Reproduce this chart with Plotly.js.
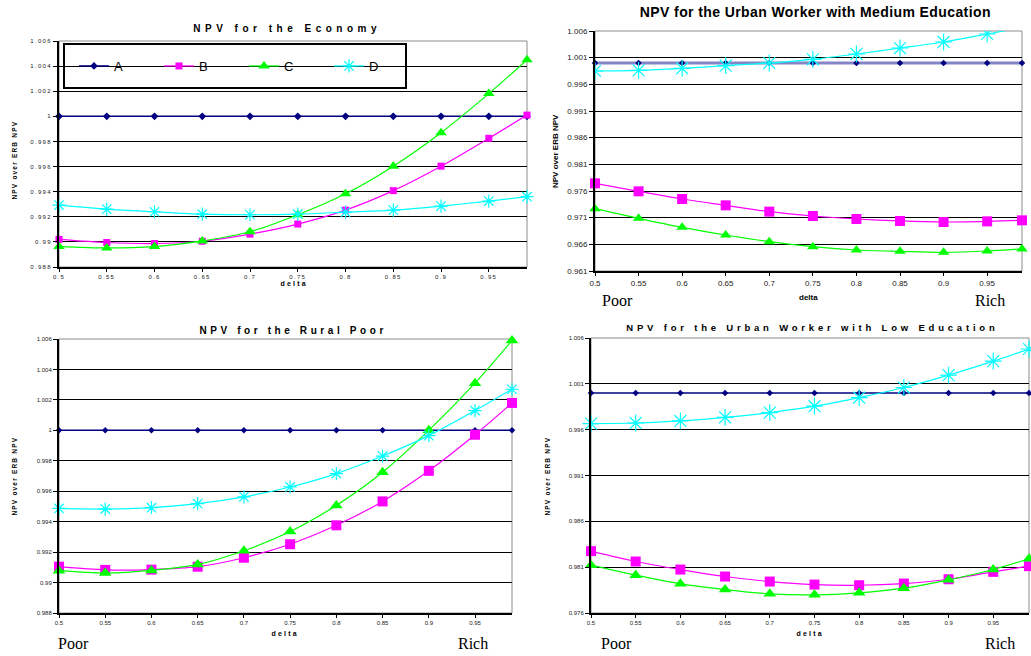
<!DOCTYPE html>
<html>
<head>
<meta charset="utf-8">
<script src="https://cdn.plot.ly/plotly-3.0.1.min.js"></script>
<style>
html,body{margin:0;padding:0;background:#fff;}
#chart{width:1031px;height:656px;}
.subplot.xy .xtick text, .subplot.xy .ytick text,
.subplot.x3y3 .xtick text, .subplot.x3y3 .ytick text,
.subplot.x4y4 .xtick text, .subplot.x4y4 .ytick text {letter-spacing:1.3px;}
.annotation[data-index="0"] .annotation-text{letter-spacing:4.5px;}
.annotation[data-index="1"] .annotation-text{letter-spacing:0.4px;}
.annotation[data-index="2"] .annotation-text{letter-spacing:3.6px;}
.annotation[data-index="3"] .annotation-text{letter-spacing:3.8px;}
.annotation[data-index="4"] .annotation-text,
.annotation[data-index="6"] .annotation-text,
.annotation[data-index="7"] .annotation-text{letter-spacing:1.2px;}
.annotation[data-index="8"] .annotation-text,
.annotation[data-index="10"] .annotation-text,
.annotation[data-index="11"] .annotation-text{letter-spacing:2.2px;}
</style>
</head>
<body>
<div id="chart"></div>
<script>
// ---------------- data ----------------
const delta = [0.5, 0.55, 0.6, 0.65, 0.7, 0.75, 0.8, 0.85, 0.9, 0.95, 0.99];
const xTickVals = [0.5, 0.55, 0.6, 0.65, 0.7, 0.75, 0.8, 0.85, 0.9, 0.95];
const xTickText = ['0.5', '0.55', '0.6', '0.65', '0.7', '0.75', '0.8', '0.85', '0.9', '0.95'];

const seriesNames = ['A', 'B', 'C', 'D'];

const econA = [1, 1, 1, 1, 1, 1, 1, 1, 1, 1, 1];
const econB = [0.9902, 0.98995, 0.98987, 0.99005, 0.99062, 0.99142, 0.99253, 0.99408, 0.99603, 0.99825, 1.0001];
const econC = [0.98963, 0.98952, 0.98963, 0.99008, 0.99081, 0.99216, 0.99383, 0.99603, 0.9987, 1.00181, 1.0045];
const econD = [0.99293, 0.99261, 0.9924, 0.99221, 0.99216, 0.99221, 0.99237, 0.99253, 0.99285, 0.99325, 0.9936];

const medA = [1, 1, 1, 1, 1, 1, 1, 1, 1, 1, 1];
const medB = [0.97744, 0.97594, 0.9745, 0.97331, 0.97213, 0.97131, 0.97075, 0.97038, 0.97019, 0.97031, 0.9705];
const medC = [0.97269, 0.97088, 0.96919, 0.96775, 0.9665, 0.96556, 0.96494, 0.96469, 0.9645, 0.96475, 0.96513];
const medD = [0.9985, 0.99862, 0.999, 0.9995, 1.0, 1.00069, 1.00169, 1.00281, 1.00394, 1.00544, 1.00663];

const ruralA = [1, 1, 1, 1, 1, 1, 1, 1, 1, 1, 1];
const ruralB = [0.99104, 0.99083, 0.99085, 0.99104, 0.99163, 0.99252, 0.99376, 0.99533, 0.99734, 0.99971, 1.0018];
const ruralC = [0.99078, 0.99063, 0.9908, 0.99119, 0.99209, 0.99335, 0.99507, 0.99725, 1.0, 1.0031, 1.0059];
const ruralD = [0.99487, 0.99483, 0.99492, 0.99518, 0.99563, 0.99628, 0.99716, 0.99831, 0.99965, 1.0013, 1.0027];

const lowA = [1, 1, 1, 1, 1, 1, 1, 1, 1, 1, 1];
const lowB = [0.98275, 0.98162, 0.98074, 0.97998, 0.97943, 0.9791, 0.97903, 0.97921, 0.97968, 0.98049, 0.98111];
const lowC = [0.98122, 0.98013, 0.97918, 0.97856, 0.97809, 0.97798, 0.9782, 0.97871, 0.97962, 0.98075, 0.98192];
const lowD = [0.99666, 0.99673, 0.99695, 0.99735, 0.99786, 0.99856, 0.9995, 1.0006, 1.00195, 1.00348, 1.0048];

const yTicksFine = [0.988, 0.990, 0.992, 0.994, 0.996, 0.998, 1.0, 1.002, 1.004, 1.006];
const yTicksFineText = ['0.988', '0.99', '0.992', '0.994', '0.996', '0.998', '1', '1.002', '1.004', '1.006'];
const yTicksMed = [0.961, 0.966, 0.971, 0.976, 0.981, 0.986, 0.991, 0.996, 1.001, 1.006];
const yTicksMedText = ['0.961', '0.966', '0.971', '0.976', '0.981', '0.986', '0.991', '0.996', '1.001', '1.006'];
const yTicksLow = [0.976, 0.981, 0.986, 0.991, 0.996, 1.001, 1.006];
const yTicksLowText = ['0.976', '0.981', '0.986', '0.991', '0.996', '1.001', '1.006'];

const titles = ['NPV for the Economy', 'NPV for the Urban Worker with Medium Education',
                'NPV for the Rural Poor', 'NPV for the Urban Worker with Low Education'];
const yTitle = 'NPV over ERB NPV';
const xTitle = 'delta';
const poorLabel = 'Poor';
const richLabel = 'Rich';

// ---------------- layout helpers ----------------
const W = 1031, H = 656;
const px = x => x / W;
const py = y => 1 - y / H;

const colors = {A: '#000080', B: '#FF00FF', C: '#00FF00', D: '#00FFFF'};

function makeTraces(xa, ya, vals, sizes, opts) {
  opts = opts || {};
  const symbols = {A: 'diamond', B: 'square', C: 'triangle-up', D: 'asterisk-open'};
  return seriesNames.map((n, i) => {
    const isA = n === 'A';
    return {
      type: 'scatter', mode: 'lines+markers', name: n,
      x: delta, y: vals[i], xaxis: xa, yaxis: ya,
      showlegend: !!opts.legend,
      cliponaxis: (opts.clipD && n === 'D') ? true : false,
      line: {color: (isA && opts.aLine) ? opts.aLine : colors[n],
             width: isA ? (opts.aWidth || 1.5) : 1.2,
             shape: 'spline', smoothing: 0.8},
      marker: {symbol: symbols[n], size: sizes[i], color: colors[n],
               line: {color: colors[n], width: n === 'D' ? 1.2 : 0}}
    };
  });
}

const traces = [].concat(
  makeTraces('x', 'y', [econA, econB, econC, econD], [6, 7, 10, 11], {legend: true}),
  makeTraces('x2', 'y2', [medA, medB, medC, medD], [5, 10, 10, 14], {aLine: '#8385C6', aWidth: 3, clipD: true}),
  makeTraces('x3', 'y3', [ruralA, ruralB, ruralC, ruralD], [5, 10, 11, 11], {}),
  makeTraces('x4', 'y4', [lowA, lowB, lowC, lowD], [5, 10, 11, 14], {})
);

function xAxis(dom, anchor, fs) {
  return {domain: dom, anchor: anchor, range: [0.5, 0.99],
    tickmode: 'array', tickvals: xTickVals, ticktext: xTickText,
    tickfont: {family: 'Arial, Liberation Sans', size: fs, color: '#222'},
    showline: true, linecolor: '#000', linewidth: 2,
    ticks: 'outside', ticklen: 3, tickcolor: '#000', tickwidth: 1,
    showgrid: false, zeroline: false, fixedrange: true};
}
function yAxis(dom, anchor, range, tv, tt, fs) {
  return {domain: dom, anchor: anchor, range: range,
    tickmode: 'array', tickvals: tv, ticktext: tt,
    tickfont: {family: 'Arial, Liberation Sans', size: fs, color: '#222'},
    showline: true, linecolor: '#000', linewidth: 2,
    ticks: 'outside', ticklen: 4, tickcolor: '#000', tickwidth: 1,
    showgrid: true, gridcolor: '#000', gridwidth: 1,
    zeroline: false, fixedrange: true};
}

const layout = {
  width: W, height: H,
  margin: {l: 0, r: 0, t: 0, b: 0},
  paper_bgcolor: '#fff', plot_bgcolor: 'rgba(0,0,0,0)',
  font: {family: 'Arial, Liberation Sans', color: '#000'},
  xaxis:  xAxis([px(59), px(527)], 'y', 6),
  yaxis:  yAxis([py(267), py(41)], 'x', [0.988, 1.006], yTicksFine, yTicksFineText, 6),
  xaxis2: xAxis([px(595), px(1022)], 'y2', 8),
  yaxis2: yAxis([py(271), py(31)], 'x2', [0.961, 1.006], yTicksMed, yTicksMedText, 8),
  xaxis3: xAxis([px(59), px(512)], 'y3', 6),
  yaxis3: yAxis([py(613), py(339)], 'x3', [0.988, 1.006], yTicksFine, yTicksFineText, 6),
  xaxis4: xAxis([px(591), px(1029)], 'y4', 6),
  yaxis4: yAxis([py(613), py(338)], 'x4', [0.976, 1.006], yTicksLow, yTicksLowText, 6),
  showlegend: true,
  legend: {orientation: 'h', x: px(74), y: py(51), xanchor: 'left', yanchor: 'top',
           bgcolor: 'rgba(0,0,0,0)', borderwidth: 0,
           font: {family: 'Arial, Liberation Sans', size: 13, color: '#000'},
           entrywidth: 40, itemwidth: 30, traceorder: 'normal'},
  shapes: [
    ['x', 'y'], ['x2', 'y2'], ['x3', 'y3'], ['x4', 'y4']
  ].map(([xa, ya]) => ({type: 'rect', xref: xa + ' domain', yref: ya + ' domain',
      x0: 0, x1: 1, y0: 0, y1: 1, layer: 'below',
      line: {color: '#8c8c8c', width: 1}, fillcolor: 'rgba(0,0,0,0)'}))
    .concat([{type: 'rect', xref: 'paper', yref: 'paper',
      x0: px(64), x1: px(406), y0: py(88), y1: py(44), layer: 'between',
      line: {color: '#000', width: 2}, fillcolor: '#fff'}]),
  annotations: []
};

function ann(text, x, y, size, bold, extra) {
  const a = Object.assign({text: bold ? '<b>' + text + '</b>' : text,
    xref: 'paper', yref: 'paper', x: px(x), y: py(y),
    xanchor: 'center', yanchor: 'middle', showarrow: false,
    font: {family: 'Arial, Liberation Sans', size: size, color: '#000'}}, extra || {});
  return a;
}
const serif = {font: {family: 'Liberation Serif, Times New Roman, serif', size: 16, color: '#000'}};

layout.annotations = [
  ann(titles[0], 287, 28, 10, true),            // 0
  ann(titles[1], 815, 12, 14, true),            // 1
  ann(titles[2], 293, 330, 10, true),           // 2
  ann(titles[3], 812, 327, 9.5, true),          // 3
  ann(yTitle, 14, 160, 6.5, true, {textangle: -90}),   // 4
  ann(yTitle, 555, 151, 8, true, {textangle: -90}),    // 5
  ann(yTitle, 14, 476, 6.5, true, {textangle: -90}),   // 6
  ann(yTitle, 547, 476, 6.5, true, {textangle: -90}),  // 7
  ann(xTitle, 294, 284, 7, true),               // 8
  ann(xTitle, 808, 297, 8, true),               // 9
  ann(xTitle, 285, 633, 7, true),               // 10
  ann(xTitle, 810, 633, 7, true),               // 11
  ann(poorLabel, 617, 300, 16, false, serif),
  ann(richLabel, 990, 300, 16, false, serif),
  ann(poorLabel, 73, 643, 16, false, serif),
  ann(richLabel, 473, 643, 16, false, serif),
  ann(poorLabel, 616, 643, 16, false, serif),
  ann(richLabel, 1000, 643, 16, false, serif)
];

Plotly.newPlot('chart', traces, layout, {displayModeBar: false, staticPlot: true});
</script>
</body>
</html>
